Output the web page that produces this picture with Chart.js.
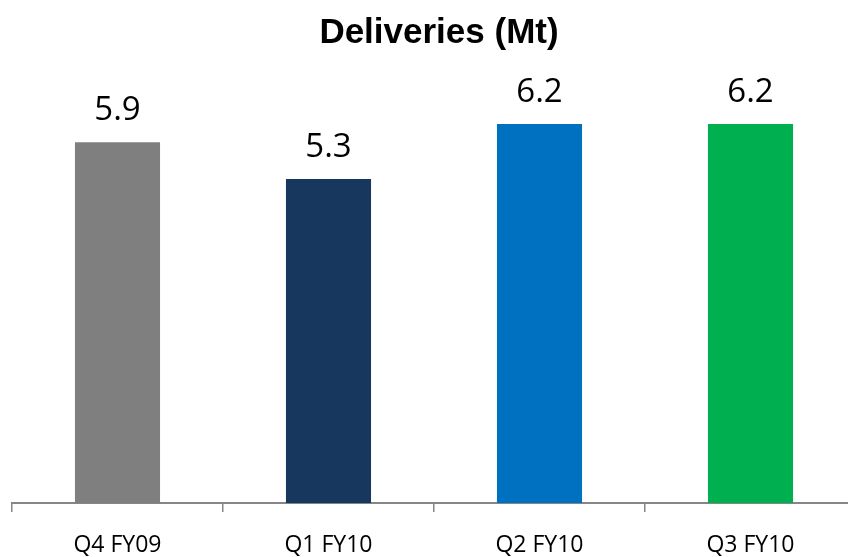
<!DOCTYPE html>
<html>
<head>
<meta charset="utf-8">
<script src="https://cdn.jsdelivr.net/npm/chart.js@4"></script>
<style>
  html, body { margin: 0; padding: 0; background: #ffffff; overflow: hidden; }
  #wrap { width: 860px; height: 557px; position: relative; }
</style>
</head>
<body>
<div id="wrap"><canvas id="c"></canvas></div>
<script>
const categories = ['Q4 FY09', 'Q1 FY10', 'Q2 FY10', 'Q3 FY10'];
const deliveries = [5.9, 5.3, 6.2, 6.2];
const valueLabels = ['5.9', '5.3', '6.2', '6.2'];
const barColors = ['#7f7f7f', '#17375e', '#0070c0', '#00b050'];
const chartTitle = 'Deliveries (Mt)';

const labelPlugin = {
  id: 'valueLabels',
  afterDatasetsDraw(chart) {
    const ctx = chart.ctx;
    const meta = chart.getDatasetMeta(0);
    ctx.save();
    ctx.font = '33px "Open Sans", sans-serif';
    ctx.fillStyle = '#000000';
    ctx.textAlign = 'center';
    ctx.textBaseline = 'alphabetic';
    meta.data.forEach((bar, i) => {
      ctx.fillText(valueLabels[i], bar.x, bar.y - 22);
    });
    // title, nudged slightly right of the layout centre as in the reference
    ctx.font = 'bold 35px "Liberation Sans", Arial, sans-serif';
    ctx.textBaseline = 'middle';
    const tb = chart.titleBlock;
    const cx = (tb.left + tb.right) / 2 + 5;
    const cy = tb.top + 12 + 21;
    ctx.fillText(chartTitle, cx, cy);
    ctx.restore();
  }
};

new Chart(document.getElementById('c'), {
  type: 'bar',
  data: {
    labels: categories,
    datasets: [{
      data: deliveries,
      backgroundColor: barColors,
      borderWidth: 0,
      categoryPercentage: 0.8,
      barPercentage: 0.504
    }]
  },
  options: {
    responsive: true,
    maintainAspectRatio: false,
    animation: false,
    layout: { padding: { left: 12, right: 4, top: 0, bottom: -22 } },
    plugins: {
      legend: { display: false },
      tooltip: { enabled: false },
      title: {
        display: true,
        text: chartTitle,
        color: 'rgba(0,0,0,0)',
        font: { family: '"Liberation Sans", Arial, sans-serif', size: 35, weight: 'bold' },
        padding: { top: 12, bottom: 21 }
      }
    },
    scales: {
      y: {
        display: false,
        min: 0,
        max: 7
      },
      x: {
        grid: {
          display: true,
          offset: true,
          drawOnChartArea: false,
          drawTicks: true,
          tickLength: 9,
          color: '#868686',
          lineWidth: 1.5
        },
        border: { display: true, color: '#868686', width: 2 },
        ticks: {
          color: '#000000',
          font: { family: '"Open Sans", sans-serif', size: 23, lineHeight: 1 },
          padding: 22
        }
      }
    }
  },
  plugins: [labelPlugin]
});
</script>
</body>
</html>
